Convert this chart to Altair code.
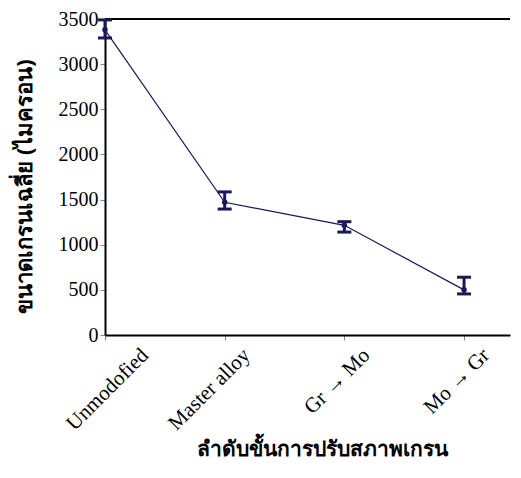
import altair as alt
import pandas as pd

categories = ["Unmodofied", "Master alloy", "Gr → Mo", "Mo → Gr"]
positions = [0, 1, 2, 3]
means = [3380, 1470, 1215, 500]
lower = [3290, 1395, 1140, 455]
upper = [3490, 1585, 1255, 640]
y_ticks = [0, 500, 1000, 1500, 2000, 2500, 3000, 3500]

df = pd.DataFrame({"pos": positions, "cat": categories, "mean": means,
                   "lo": lower, "hi": upper})
caps = pd.DataFrame({"pos": positions * 2, "v": lower + upper})

navy = "#191955"
label_expr = "[" + ",".join(f"'{c}'" for c in categories) + "][datum.value]"

x = alt.X("pos:Q", scale=alt.Scale(domain=[0, 3.384], nice=False, zero=False),
          axis=alt.Axis(values=positions, labelExpr=label_expr, labelAngle=-45,
                        labelAlign="right", labelBaseline="top",
                        labelFont="Liberation Serif", labelFontSize=21,
                        labelColor="black", labelPadding=4,
                        labelOffset=alt.ExprRef("datum.value == 0 ? 32 : 14"),
                        labelBound=False, labelOverlap=False,
                        domainColor="black", domainWidth=2,
                        tickColor="#888888", tickSize=5, grid=False,
                        title="ลำดับขั้นการปรับสภาพเกรน", titleFontSize=21,
                        titleFontWeight="bold", titleColor="black",
                        titlePadding=5, titleX=217, titleFont="Noto Sans"))
y = alt.Y("mean:Q", scale=alt.Scale(domain=[0, 3500], nice=False),
          axis=alt.Axis(values=y_ticks, format="d", labelFont="Liberation Serif",
                        labelFontSize=20, labelColor="black",
                        domainColor="black", domainWidth=2,
                        tickColor="#888888", tickSize=5, grid=False,
                        title="ขนาดเกรนเฉลี่ย (ไมครอน)", titleFontSize=22,
                        titleFontWeight="bold", titleColor="black",
                        titlePadding=22, titleY=167, titleFont="Noto Sans"))

line = alt.Chart(df).mark_line(color=navy, strokeWidth=1.2).encode(x=x, y=y)
pts = alt.Chart(df).mark_point(filled=True, color=navy, size=30, opacity=1).encode(x=x, y=y)
bars = alt.Chart(df).mark_rule(color=navy, strokeWidth=3).encode(
    x="pos:Q", y="lo:Q", y2="hi:Q")
capm = alt.Chart(caps).mark_tick(color=navy, thickness=3, size=14, opacity=1,
                                 orient="horizontal").encode(x="pos:Q", y="v:Q")
top = alt.Chart(pd.DataFrame({"v": [3500]})).mark_rule(color="black", strokeWidth=2).encode(
    y="v:Q")

chart = alt.layer(top, line, bars, capm, pts).properties(
    width=405, height=316, padding={"left": 5, "top": 1, "right": 0, "bottom": 0}
).configure_view(stroke=None)

chart.save("out.html", embed_options={"renderer": "svg", "actions": False})
